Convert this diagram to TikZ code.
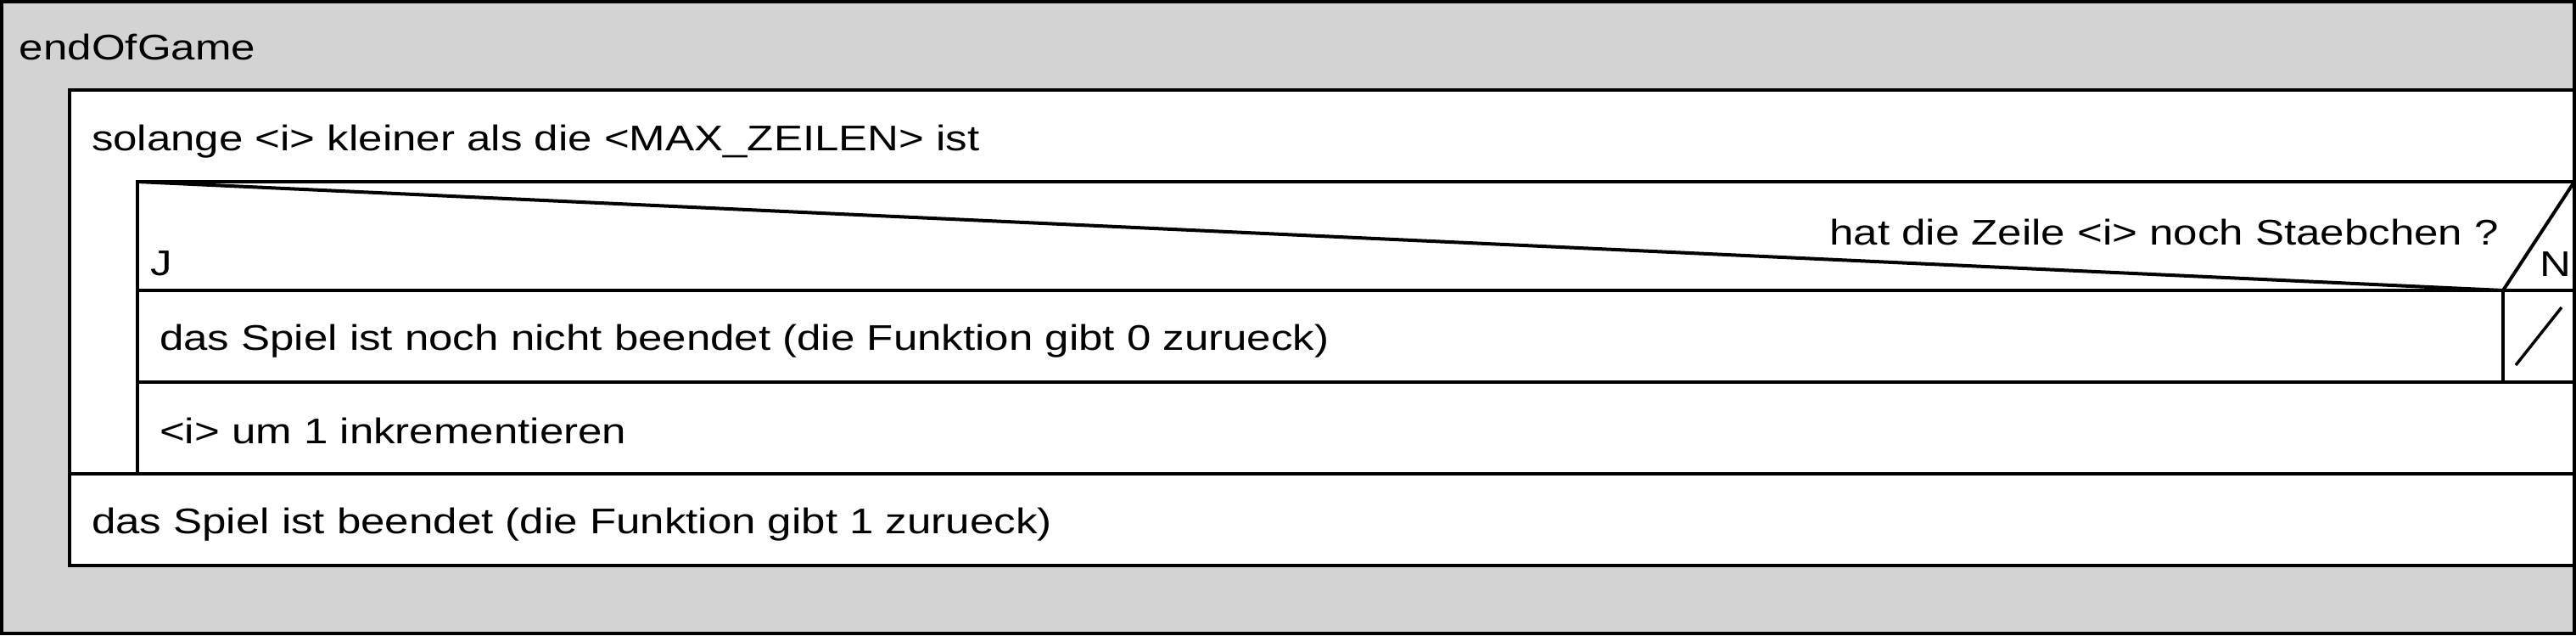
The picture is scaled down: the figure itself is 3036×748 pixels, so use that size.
\documentclass[tikz,border=0pt]{standalone}
\usepackage{fontspec}
\setmainfont[FakeStretch=1.215]{Liberation Sans}
\definecolor{framegray}{RGB}{211,211,211}
\begin{document}
\begin{tikzpicture}[x=1pt,y=-1pt,line width=4pt,
  txt/.style={inner sep=0pt,font=\fontsize{42}{50}\selectfont},
  cell/.style={draw=black,fill=white}]
\useasboundingbox (0,0) rectangle (3036,748);
% outer function frame
\path[fill=framegray,draw=black] (2,2) rectangle (3034,746);
% while loop frame
\path[cell] (82,106) rectangle (3034,666);
% loop body (if + increment)
\path[cell] (162,214) rectangle (3034,558);
% condition row
\coordinate (cTL) at (162,214);
\coordinate (cTR) at (3034,214);
\coordinate (cV) at (2950,342);
\draw (162,342) -- (3034,342);
\draw (cTL) -- (cV) -- (cTR);
% branch row
\draw (cV) -- (2950,450);
\draw (162,450) -- (3034,450);
\draw[line width=3.5pt] (2965,430) -- (3019,362);
% last statement row
\draw (82,558) -- (3034,558);
% texts
\node[txt,anchor=base west] (tName) at (21,70) {endOfGame};
\node[txt,anchor=base west] (tWhile) at (106,177) {solange <i> kleiner als die <MAX\_ZEILEN> ist};
\node[txt,anchor=base east] (tCond) at (2947,288) {hat die Zeile <i> noch Staebchen ?};
\node[txt,anchor=base west] (tJ) at (175,324) {J};
\node[txt,anchor=base west] (tN) at (2991,325) {N};
\node[txt,anchor=base west] (tYes) at (186,412) {das Spiel ist noch nicht beendet (die Funktion gibt 0 zurueck)};
\node[txt,anchor=base west] (tInc) at (186,522) {<i> um 1 inkrementieren};
\node[txt,anchor=base west] (tEnd) at (106,628) {das Spiel ist beendet (die Funktion gibt 1 zurueck)};
\end{tikzpicture}
\end{document}
